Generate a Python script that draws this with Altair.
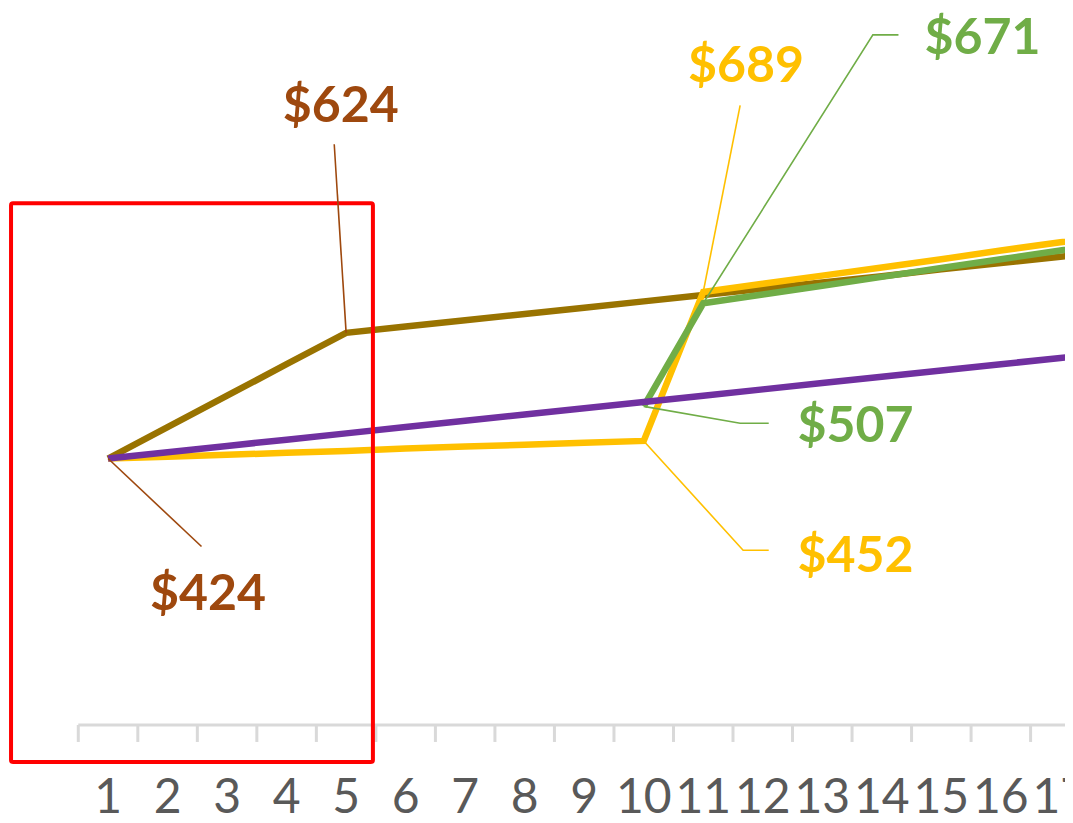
import altair as alt
import pandas as pd

# ---------------- data ----------------
categories = list(range(1, 19))
tick_labels = [str(c) for c in categories]

series_names = ["Brown", "Yellow", "Green", "Purple"]
brown_vals = [424, 474, 524, 574, 624, 634, 644, 654, 664, 674, 684, 694, 704, 714, 725, 735, 745, 755]
yellow_vals = [424, 427, 430, 433, 436, 440, 443, 446, 449, 452, 689, 702, 715, 728, 741, 755, 768, 781]
green_vals = [None, None, None, None, None, None, None, None, None, 507, 671, 685, 699, 713, 727, 741, 755, 769]
purple_vals = [424, 434, 444, 454, 464, 474, 484, 494, 504, 514, 524, 534, 544, 554, 564, 574, 584, 594]

# ---------------- styles ----------------
line_colors = ["#997300", "#FFC000", "#70AD47", "#7030A0"]
label_colors = ["#9E480E", "#FFC000", "#70AD47", "#7030A0"]
FONT = "Lato"

# label layout: (series, category of labelled point, leader bend points (cat, $), label anchor (cat, $))
label_layout = [
    ("Brown", 1, [(2.57, 284)], (2.68, 183)),
    ("Brown", 5, [(4.80, 924)], (4.91, 959)),
    ("Yellow", 11, [(11.62, 986)], (11.72, 1023)),
    ("Green", 11, [(13.85, 1098), (14.28, 1098)], (15.69, 1068)),
    ("Green", 10, [(11.62, 480), (12.10, 480)], (13.56, 450)),
    ("Yellow", 10, [(11.67, 278), (12.10, 278)], (13.56, 243)),
]

values_by_series = {
    "Brown": brown_vals,
    "Yellow": yellow_vals,
    "Green": green_vals,
    "Purple": purple_vals,
}

rows = []
for s in series_names:
    for c, v in zip(categories, values_by_series[s]):
        if v is not None:
            rows.append({"series": s, "cat": c, "value": v})
lines_df = pd.DataFrame(rows)

leader_rows = []
text_rows = []
for i, (s, c, bends, anchor) in enumerate(label_layout):
    v = values_by_series[s][categories.index(c)]
    pts = [(c, v)] + bends
    for k, (px, py) in enumerate(pts):
        leader_rows.append({"id": i, "ord": k, "series": s, "cat": px, "value": py})
    text_rows.append({"series": s, "cat": anchor[0], "value": anchor[1], "label": f"${v}"})
leaders_df = pd.DataFrame(leader_rows)
texts_df = pd.DataFrame(text_rows)

axis_df = pd.DataFrame({"cat": [categories[0] - 0.5], "cat2": [categories[-1] + 1], "value": [0]})
ticks_df = pd.DataFrame({
    "cat": [c - 0.5 for c in categories],
    "value": [0] * len(categories),
    "value2": [-27] * len(categories),
})
ticklab_df = pd.DataFrame({"cat": categories, "label": tick_labels, "value": [-140] * len(categories)})
box_df = pd.DataFrame({"cat": [-0.63], "cat2": [5.45], "value": [-59], "value2": [830]})

# ---------------- scales ----------------
xs = alt.Scale(domain=[-0.681, 17.078], nice=False, zero=False)
ys = alt.Scale(domain=[-143.2, 1140.8], nice=False, zero=False)


def X(f="cat"):
    return alt.X(f"{f}:Q", scale=xs, axis=None)


def Y(f="value"):
    return alt.Y(f"{f}:Q", scale=ys, axis=None)


line_color = alt.Color("series:N", scale=alt.Scale(domain=series_names, range=line_colors), legend=None)
label_color = alt.Color("series:N", scale=alt.Scale(domain=series_names, range=label_colors), legend=None)

axis_line = alt.Chart(axis_df).mark_rule(color="#D9D9D9", strokeWidth=3, clip=True).encode(
    x=X(), x2="cat2:Q", y=Y()
)
ticks = alt.Chart(ticks_df).mark_rule(color="#D9D9D9", strokeWidth=3, clip=True).encode(
    x=X(), y=Y(), y2="value2:Q"
)
tick_text = alt.Chart(ticklab_df).mark_text(
    font=FONT, fontSize=48, color="#595959", baseline="alphabetic", align="center", clip=True
).encode(x=X(), y=Y(), text="label:N")

series_lines = alt.Chart(lines_df).mark_line(strokeWidth=6.5, clip=True).encode(
    x=X(), y=Y(), color=line_color,
    order=alt.Order("cat:Q"),
    detail="series:N",
)

box = alt.Chart(box_df).mark_rect(
    filled=False, stroke="#FF0000", strokeWidth=4, cornerRadius=2, clip=True
).encode(x=X(), x2="cat2:Q", y=Y(), y2="value2:Q")

leaders = alt.Chart(leaders_df).mark_line(strokeWidth=1.6, clip=True).encode(
    x=X(), y=Y(), color=label_color, detail="id:N", order=alt.Order("ord:Q")
)

data_labels = alt.Chart(texts_df).mark_text(
    font=FONT, fontSize=50, fontWeight="bold", baseline="alphabetic", align="center", clip=True
).encode(x=X(), y=Y(), text="label:N", color=label_color)

chart = alt.layer(
    axis_line, ticks, tick_text, series_lines, box, leaders, data_labels
).resolve_scale(color="independent").properties(
    width=1057, height=807, autosize=alt.AutoSizeParams(type="none"), padding=0
).configure_view(stroke=None)

chart.save("out.html", embed_options={"renderer": "svg", "actions": False})
